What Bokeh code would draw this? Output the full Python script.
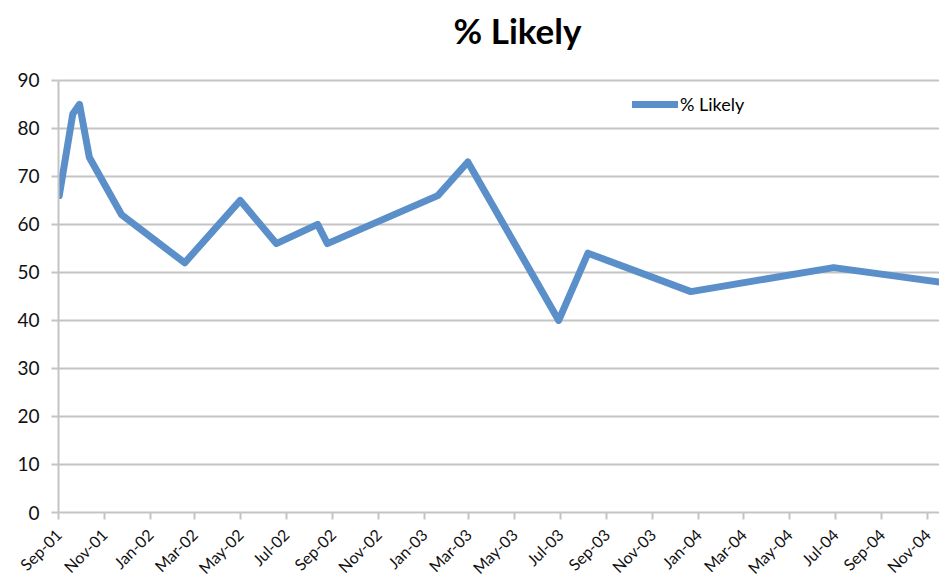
import math
import pandas as pd
from bokeh.plotting import figure
from bokeh.models import ColumnDataSource, FixedTicker, Range1d, Legend, LegendItem, Label
from bokeh.embed import file_html
from bokeh.resources import INLINE

# ---- data ----
dates = ["2001-09-02", "2001-09-20", "2001-09-29", "2001-10-12", "2001-11-24",
         "2002-02-16", "2002-05-01", "2002-06-18", "2002-08-12", "2002-08-25",
         "2003-01-19", "2003-02-28", "2003-06-29", "2003-08-07", "2003-12-22",
         "2004-06-29", "2004-11-17"]
likely = [66, 83, 85, 74, 62, 52, 65, 56, 60, 56, 66, 73, 40, 54, 46, 51, 48]
x_tick_labels = ["Sep-01", "Nov-01", "Jan-02", "Mar-02", "May-02", "Jul-02",
                 "Sep-02", "Nov-02", "Jan-03", "Mar-03", "May-03", "Jul-03",
                 "Sep-03", "Nov-03", "Jan-04", "Mar-04", "May-04", "Jul-04",
                 "Sep-04", "Nov-04"]
y_ticks = [0, 10, 20, 30, 40, 50, 60, 70, 80, 90]
series_name = "% Likely"
title_text = "% Likely"

# ---- layout constants (pixels) ----
W, H = 939, 586
LEFT, BOTTOM = 58, 73
PLOT_TOP = 80                      # pixel row where the top tick (90) sits
frame_h = H - BOTTOM               # frame spans whole height (title drawn inside)
data_h = frame_h - PLOT_TOP

# ---- build ----
dt = pd.to_datetime(dates)
src = ColumnDataSource(dict(date=dt, likely=likely))

tick_dt = pd.to_datetime(x_tick_labels, format="%b-%y")
tick_ms = [t.value / 1e6 for t in tick_dt]

x_start = tick_ms[0]
x_end = dt[-1].value / 1e6
y_lo, y_hi = y_ticks[0], y_ticks[-1]
y_end = y_lo + (y_hi - y_lo) * frame_h / data_h

FONT = "Lato"
GRID = "#c4c4c4"
LINE = "#5b8fca"

p = figure(width=W, height=H, x_axis_type="datetime", title=None,
           x_range=Range1d(x_start, x_end), y_range=Range1d(y_lo, y_end),
           output_backend="svg", toolbar_location=None,
           min_border_left=LEFT, min_border_right=0, min_border_bottom=BOTTOM, min_border_top=0)

r = p.line(x="date", y="likely", source=src, line_width=7, line_color=LINE,
           line_join="round", line_cap="round")

title = Label(x=459, y=frame_h - 30, x_units="screen", y_units="screen", text=title_text,
              text_align="center", text_baseline="alphabetic", text_font=FONT,
              text_font_style="bold", text_font_size="35px", text_color="#000000")
p.add_layout(title)

p.outline_line_color = None
p.xgrid.grid_line_color = None
p.ygrid.grid_line_color = GRID
p.ygrid.grid_line_width = 2
p.ygrid.ticker = FixedTicker(ticks=y_ticks)

p.yaxis.ticker = FixedTicker(ticks=y_ticks)
p.yaxis.bounds = (y_lo, y_hi)
p.xaxis.ticker = FixedTicker(ticks=tick_ms)
p.xaxis.major_label_overrides = {t: lab for t, lab in zip(tick_ms, x_tick_labels)}
p.xaxis.major_label_orientation = math.pi / 4

for ax in (p.xaxis[0], p.yaxis[0]):
    ax.axis_line_color = GRID
    ax.axis_line_width = 2
    ax.major_tick_line_color = GRID
    ax.major_tick_line_width = 2
    ax.major_tick_out = 7
    ax.major_tick_in = 0
    ax.minor_tick_line_color = None
    ax.major_label_text_font = FONT
    ax.major_label_text_color = "#111111"

p.yaxis.major_label_text_font_size = "19px"
p.yaxis.major_label_standoff = 12
p.xaxis.major_label_text_font_size = "16px"
p.xaxis.major_label_standoff = 12

legend = Legend(items=[LegendItem(label=series_name, renderers=[r])],
                location=(574, 397), orientation="vertical")
legend.border_line_color = None
legend.background_fill_alpha = 0
legend.glyph_width = 46
legend.glyph_height = 20
legend.label_standoff = 2
legend.padding = 4
legend.margin = 0
legend.label_text_font = FONT
legend.label_text_font_size = "18px"
legend.label_text_color = "#000000"
p.add_layout(legend, "center")

open("out.html", "w").write(file_html(p, INLINE))
